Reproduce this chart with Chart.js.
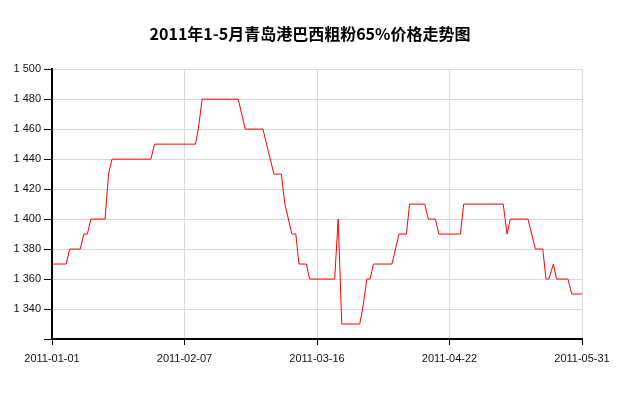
<!DOCTYPE html>
<html>
<head>
<meta charset="utf-8">
<script src="https://cdn.jsdelivr.net/npm/chart.js@4/dist/chart.umd.min.js"></script>
<style>
html,body{margin:0;padding:0;background:#fff;}
#wrap{width:620px;height:400px;position:relative;}
</style>
</head>
<body>
<div id="wrap"><canvas id="c" width="620" height="400"></canvas></div>
<script>
// Data: day offset from 2011-01-01, and price
const dayOffsets = [0,4,5,8,9,10,11,15,16,17,28,29,40.6,41.4,42.5,52.7,54.7,59.7,62.8,64.9,65.9,67.9,69,69.9,72,72.9,80,81,82,87.1,87.9,89.1,90,91,96.2,98.2,100.3,101.2,105.5,106.5,108.5,109.5,115.6,116.5,127.7,128.8,129.7,134.7,136.8,138.9,139.8,140.6,141.9,142.8,146,147.1,150];
const prices = [1370,1370,1380,1380,1390,1390,1400,1400,1430,1440,1440,1450,1450,1460,1480,1480,1460,1460,1430,1430,1410,1390,1390,1370,1370,1360,1360,1400,1330,1330,1340,1360,1360,1370,1370,1390,1390,1410,1410,1400,1400,1390,1390,1410,1410,1390,1400,1400,1380,1380,1360,1360,1370,1360,1360,1350,1350];
const xTickLabels = ["2011-01-01","2011-02-07","2011-03-16","2011-04-22","2011-05-31"];
const yTicks = [1320,1340,1360,1380,1400,1420,1440,1460,1480,1500];
const titleText = "2011年1-5月青岛港巴西粗粉65%价格走势图";

const xSpan = 150;
const points = dayOffsets.map((d, i) => ({x: d, y: prices[i]}));

new Chart(document.getElementById('c'), {
  type: 'line',
  data: {
    datasets: [{
      data: points,
      borderColor: '#ff0000',
      borderWidth: 1,
      pointRadius: 0,
      tension: 0,
      fill: false,
      yAxisID: 'y'
    }]
  },
  options: {
    responsive: false,
    animation: false,
    layout: {padding: 0},
    plugins: {
      legend: {display: false},
      tooltip: {enabled: false},
      title: {
        display: true,
        text: titleText,
        color: '#000',
        font: {family: '"Noto Sans CJK SC"', size: 16, weight: 'bold'},
        padding: {top: 24, bottom: 26}
      }
    },
    scales: {
      x: {
        type: 'linear',
        min: 0,
        max: xSpan,
        afterBuildTicks: (scale) => {
          scale.ticks = xTickLabels.map((_, i) => ({value: i * xSpan / (xTickLabels.length - 1)}));
        },
        afterFit: (scale) => { scale.height = 61; },
        ticks: {
          autoSkip: false,
          maxRotation: 0,
          padding: 7,
          color: '#111',
          font: {family: '"Liberation Sans", Arial', size: 11},
          callback: (v, i) => xTickLabels[i]
        },
        grid: {color: '#d9d9d9', tickColor: '#000', tickLength: 6, lineWidth: 1},
        border: {display: true, color: '#000', width: 2}
      },
      y: {
        position: 'left',
        min: 1320,
        max: 1500,
        afterBuildTicks: (scale) => { scale.ticks = yTicks.map(v => ({value: v})); },
        afterFit: (scale) => { scale.width = 52; },
        ticks: {
          padding: 3,
          color: '#111',
          font: {family: '"Liberation Sans", Arial', size: 11},
          callback: (v) => v === 1320 ? '' : String(v).replace(/\B(?=(\d{3})+(?!\d))/g, ' ')
        },
        grid: {color: '#d9d9d9', tickColor: '#000', tickLength: 8, lineWidth: 1},
        border: {display: true, color: '#000', width: 2}
      },
      yRight: {
        position: 'right',
        min: 1320,
        max: 1500,
        afterFit: (scale) => { scale.width = 38; },
        ticks: {display: false},
        grid: {display: false, drawTicks: false},
        border: {display: false}
      }
    }
  }
});
</script>
</body>
</html>
